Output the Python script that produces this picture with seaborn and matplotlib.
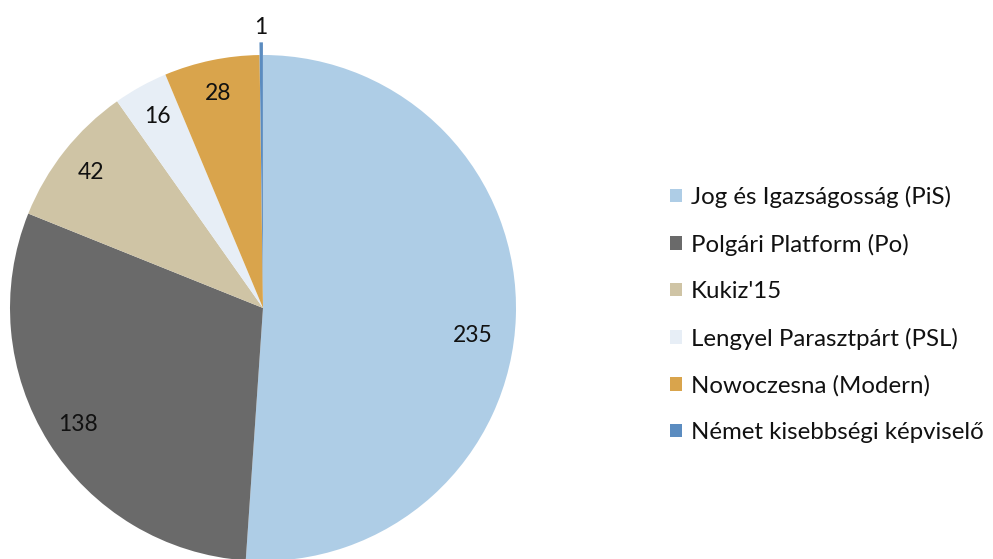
import matplotlib
matplotlib.use("Agg")
import matplotlib.pyplot as plt
import numpy as np
import seaborn as sns

parties = ["Jog és Igazságosság (PiS)", "Polgári Platform (Po)", "Kukiz'15",
           "Lengyel Parasztpárt (PSL)", "Nowoczesna (Modern)", "Német kisebbségi képviselő"]
seats = [235, 138, 42, 16, 28, 1]
colors = ["#aecde6", "#6a6a6a", "#cfc4a5", "#e7eef6", "#d9a44c", "#5b8cc0"]

# label placement (radius, angle shift in degrees)
label_radius = [0.835, 0.865, 0.865, 0.865, 0.865, 1.11]
label_shift = [-5.5, 0, 0, 0, 0, 0]

sns.set_theme(style="white")
plt.rcParams['font.family'] = ['Lato', 'DejaVu Sans']

fig = plt.figure(figsize=(9.93, 5.59), dpi=100)
W, H = 993, 559
cx, cy, r = 263, 251, 253
ax = fig.add_axes([(cx - r) / W, (cy - r) / H, 2 * r / W, 2 * r / H])

explode = [0, 0, 0, 0, 0, 0.05]
wedges, _ = ax.pie(seats, colors=colors, startangle=90, counterclock=False,
                   explode=explode, radius=1.0,
                   wedgeprops=dict(linewidth=0, edgecolor="none"))
ax.set_xlim(-1, 1)
ax.set_ylim(-1, 1)
ax.set_aspect("equal")
ax.axis("off")

for w, val, lr, sh in zip(wedges, seats, label_radius, label_shift):
    ang = np.deg2rad((w.theta1 + w.theta2) / 2 + sh)
    ax.text(lr * np.cos(ang), lr * np.sin(ang), str(val), ha="center", va="center",
            fontsize=16.5, color="#111111", clip_on=False)

leg = fig.legend(wedges, parties, loc="upper left", bbox_to_anchor=(670 / W, 1 - 186 / H),
                 frameon=False, fontsize=17.3, handlelength=0.5, handleheight=0.5,
                 handletextpad=0.38, labelspacing=1.06, borderpad=0, borderaxespad=0)
for t in leg.get_texts():
    t.set_color("#111111")

fig.savefig("out.png", dpi=100)
